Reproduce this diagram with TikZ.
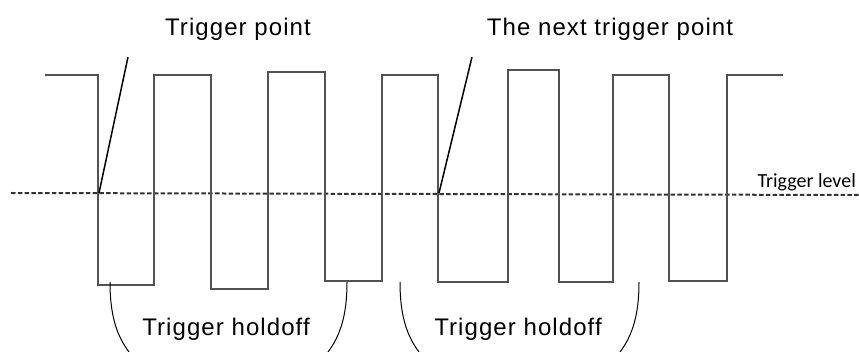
\documentclass[tikz,border=0pt]{standalone}
\usepackage{fontspec}
\setmainfont{Liberation Sans}
\newfontfamily\calib{Carlito}
\begin{document}
\begin{tikzpicture}[x=1pt,y=-1pt,
  wave/.style={draw=black!68, line width=2.6pt, line join=miter},
  trigline/.style={draw=black, line width=1.5pt},
  holdarc/.style={draw=black, line width=1pt},
  levelline/.style={draw=black!80, line width=2pt, dash pattern=on 4.5pt off 2.3pt},
  bigtext/.style={inner sep=0pt, anchor=base, font=\addfontfeature{LetterSpace=4.5}\fontsize{24}{28}\selectfont},
  leveltext/.style={inner sep=0pt, anchor=base east, font=\calib\fontsize{20}{24}\selectfont}]
\useasboundingbox (0,0) rectangle (859,352);

% trigger level
\coordinate (lvlA) at (11,193);
\coordinate (lvlB) at (859,195);
\draw[levelline] (lvlA) -- (lvlB);
\node[leveltext] (lvltext) at (856,188) {Trigger level};

% waveform
\draw[wave] (45,75) -- (98,75) -- (98,285) -- (154,285) -- (154,75) -- (211,75)
  -- (211,289) -- (268,289) -- (268,72) -- (325,72) -- (325,281) -- (382,281)
  -- (382,75) -- (438,75) -- (438,282) -- (508,282) -- (508,70) -- (559,70)
  -- (559,282) -- (613,282) -- (613,75) -- (669,75) -- (669,281) -- (727,281)
  -- (727,75) -- (783,75);

% trigger points
\coordinate (tp1) at (99,193);
\coordinate (tp1end) at (128,57);
\coordinate (tp2) at (439,193);
\coordinate (tp2end) at (472,57);
\draw[trigline] (tp1) -- (tp1end);
\draw[trigline] (tp2) -- (tp2end);

\node[bigtext] (tptext) at (238,36) {Trigger point};
\node[bigtext] (ntptext) at (610,36) {The next trigger point};

% holdoff brackets
\draw[holdarc] (110,282) .. controls (110,316) and (117,336) .. (129,352);
\draw[holdarc] (347,282) .. controls (347,316) and (340,336) .. (328,352);
\draw[holdarc] (400,282) .. controls (400,316) and (407,336) .. (419,352);
\draw[holdarc] (639,282) .. controls (639,316) and (632,336) .. (620,352);

\node[bigtext] (hold1) at (226,336) {Trigger holdoff};
\node[bigtext] (hold2) at (518,336) {Trigger holdoff};
\end{tikzpicture}
\end{document}
